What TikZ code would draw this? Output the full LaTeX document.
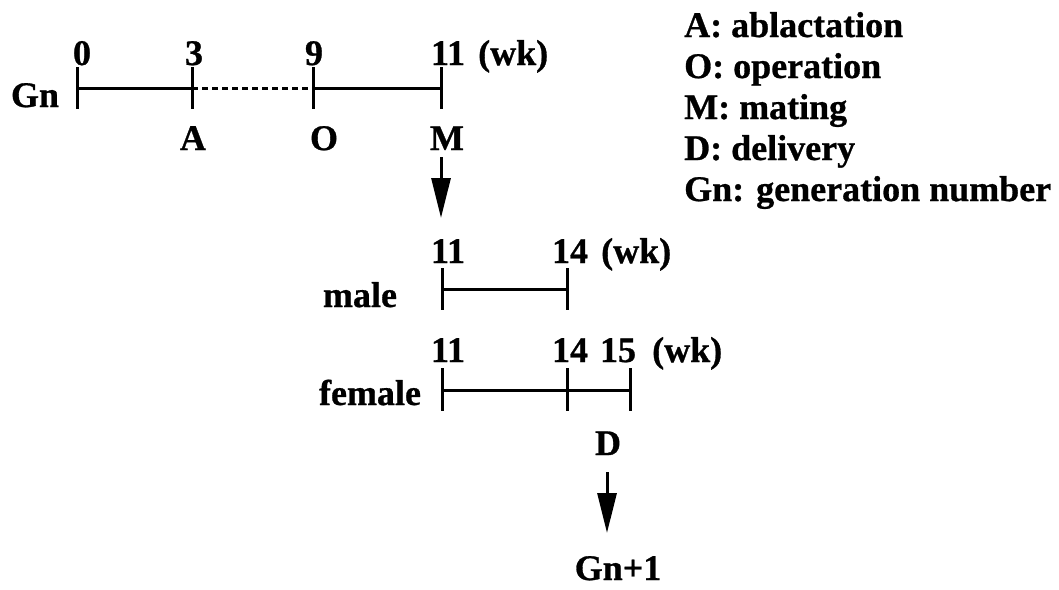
\documentclass[tikz,border=0pt]{standalone}
\usepackage{fontspec}
\setmainfont{Liberation Serif}[BoldFeatures={FakeBold=0.8}]
\usetikzlibrary{arrows.meta}
\begin{document}
\begin{tikzpicture}[x=1pt,y=-1pt,
  lbl/.style={font=\fontsize{36}{36}\selectfont\bfseries, inner sep=0pt, anchor=base},
  leg/.style={font=\fontsize{36}{36}\selectfont\bfseries, inner sep=0pt, anchor=base west},
  axis/.style={line width=3pt},
  tick/.style={line width=3pt},
  dots/.style={line width=3pt, dash pattern=on 6pt off 4pt},
  arr/.style={line width=3pt, -{Triangle[length=40pt,width=19pt]}}]
\useasboundingbox (0,0) rectangle (1059,589);
% top timeline
\coordinate (t0) at (77,88);
\coordinate (t3) at (192,88);
\coordinate (t9) at (313,88);
\coordinate (t11) at (441,88);
\foreach \c in {t0,t3,t9,t11} {\draw[tick] (\c) ++(0,-21) -- ++(0,42);}
\draw[axis] (t0) -- (t3);
\draw[dots] (t3) -- (t9);
\draw[axis] (t9) -- (t11);
\node[lbl] (l0) at (82,65) {0};
\node[lbl] (l3) at (194,65) {3};
\node[lbl] (l9) at (314,65) {9};
\node[lbl] (l11) at (448,65) {11};
\node[lbl,anchor=base west] (wk1) at (478,65) {(wk)};
\node[lbl] (gn) at (35,107) {Gn};
\node[lbl] (A) at (193,150) {A};
\node[lbl] (O) at (324,150) {O};
\node[lbl] (M) at (447,150) {M};
\coordinate (m1) at (441,157);
\coordinate (m2) at (441,218);
\draw[arr] (m1) -- (m2);
% male
\coordinate (ma11) at (442,289);
\coordinate (ma14) at (567,289);
\foreach \c in {ma11,ma14} {\draw[tick] (\c) ++(0,-21) -- ++(0,42);}
\draw[axis] (ma11) -- (ma14);
\node[lbl] (mal11) at (448,263) {11};
\node[lbl] (mal14) at (570,263) {14};
\node[lbl,anchor=base west] (wk2) at (601,263) {(wk)};
\node[lbl] (male) at (360,307) {male};
% female
\coordinate (f11) at (442,390);
\coordinate (f14) at (567,390);
\coordinate (f15) at (630,390);
\foreach \c in {f11,f14,f15} {\draw[tick] (\c) ++(0,-22) -- ++(0,43);}
\draw[axis] (f11) -- (f15);
\node[lbl] (fl11) at (448,362) {11};
\node[lbl] (fl14) at (570,362) {14};
\node[lbl] (fl15) at (618,362) {15};
\node[lbl,anchor=base west] (wk3) at (652,362) {(wk)};
\node[lbl] (female) at (370,405) {female};
\node[lbl] (D) at (608,455) {D};
\coordinate (d1) at (607,472);
\coordinate (d2) at (607,533);
\draw[arr] (d1) -- (d2);
\node[lbl] (gn1) at (618,580) {Gn+1};
% legend
\node[leg] (la) at (684,37) {A: ablactation};
\node[leg] (lo) at (684,78) {O: operation};
\node[leg] (lm) at (684,119) {M: mating};
\node[leg] (ld) at (684,160) {D: delivery};
\node[leg] (lg) at (684,201) {Gn: generation number};
\end{tikzpicture}
\end{document}
